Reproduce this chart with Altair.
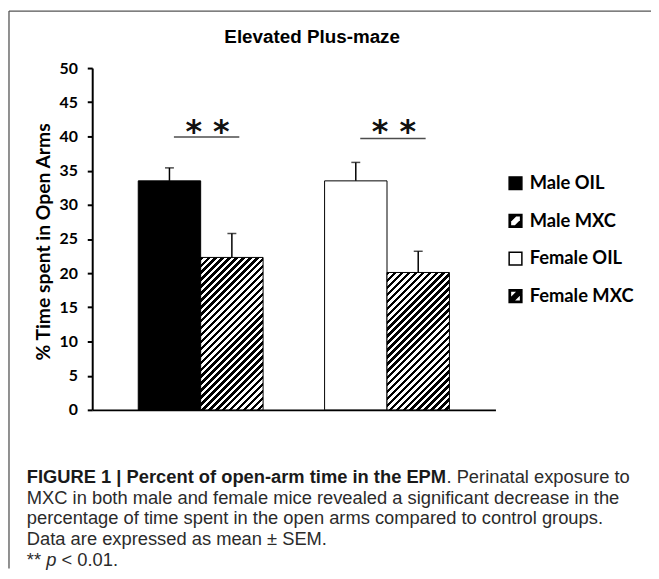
import altair as alt
import pandas as pd

# ---------------- data ----------------
groups = ["Male", "Male", "Female", "Female"]
treatments = ["OIL", "MXC", "OIL", "MXC"]
series = ["Male OIL", "Male MXC", "Female OIL", "Female MXC"]
means = [33.5, 22.3, 33.5, 20.1]
sems = [1.9, 3.5, 2.7, 3.1]

sig_groups = ["Male", "Female"]
sig_line_y = [39.9, 39.7]
sig_star_y = [41.9, 41.9]
sig_labels = ["* *", "* *"]

y_ticks = [0, 5, 10, 15, 20, 25, 30, 35, 40, 45, 50]

chart_title = "Elevated Plus-maze"
y_title = "% Time spent in Open Arms"

caption_bold = "FIGURE 1 | Percent of open-arm time in the EPM"
caption_first_rest = ". Perinatal exposure to"
caption_lines = [
    "MXC in both male and female mice revealed a significant decrease in the",
    "percentage of time spent in the open arms compared to control groups.",
    "Data are expressed as mean \u00b1 SEM.",
]
caption_note = ["**", "p", "< 0.01."]

# ---------------- layout ----------------
W, H = 407, 345
PAD_L, PAD_T, PAD_R, PAD_B = 85, 58, 157, 160
P_IN, P_OUT = 0.33, 0.247
Y_MAX = 50

df = pd.DataFrame({"group": groups, "treatment": treatments, "series": series,
                   "mean": means, "sem": sems})
df["top"] = df["mean"] + df["sem"]
sig_df = pd.DataFrame({"group": sig_groups, "line_y": sig_line_y,
                       "star_y": sig_star_y, "label": sig_labels})
one = pd.DataFrame({"k": [0]})

step = W / (2 - P_IN + 2 * P_OUT)
bar_w = step * (1 - P_IN) / 2
PERIOD = 7.0


def hatch(value):
    h = value / Y_MAX * H
    w = bar_w
    c = (w + h) / (w * w + h * h)
    d = PERIOD / (w + h)
    stops = []
    t = 0.0
    while t < 1:
        t1 = min(t + d * 0.5, 1.0)
        t2 = min(t + d, 1.0)
        stops += [alt.GradientStop(offset=t, color="black"),
                  alt.GradientStop(offset=t1, color="black"),
                  alt.GradientStop(offset=t1, color="white"),
                  alt.GradientStop(offset=t2, color="white")]
        t += d
    return alt.LinearGradient(gradient="linear", x1=0, y1=0, x2=w * c, y2=h * c, stops=stops)


y_axis = alt.Axis(values=y_ticks, grid=False, domainColor="black", domainWidth=2,
                  tickColor="black", tickWidth=2, tickSize=5,
                  labelFont="Lato", labelFontSize=16, labelFontWeight="bold",
                  labelColor="black", labelPadding=10,
                  title=y_title, titleFont="Lato", titleFontSize=19.5,
                  titleFontWeight="bold", titleColor="black",
                  titleX=-49, titleY=175, titleAngle=270,
                  titleAlign="center", titleBaseline="middle")


def Y(field):
    return alt.Y(f"{field}:Q", scale=alt.Scale(domain=[0, Y_MAX], nice=False), axis=y_axis)


x_enc = alt.X("group:N", sort=["Male", "Female"],
              scale=alt.Scale(paddingInner=P_IN, paddingOuter=P_OUT),
              axis=alt.Axis(labels=False, ticks=False, title=None,
                            domainColor="black", domainWidth=2))
xo_enc = alt.XOffset("treatment:N", sort=["OIL", "MXC"],
                     scale=alt.Scale(paddingInner=0, paddingOuter=0))

base = alt.Chart(df).encode(x=x_enc, xOffset=xo_enc)

oil_bars = base.transform_filter("datum.treatment == 'OIL'").mark_bar(
    stroke="black", strokeWidth=1).encode(
    y=Y("mean"),
    fill=alt.condition("datum.group == 'Male'", alt.value("black"), alt.value("white")))

hatched = []
for s, v, t in zip(series, means, treatments):
    if t == "MXC":
        hatched.append(base.transform_filter(f"datum.series == '{s}'").mark_bar(
            fill=hatch(v), stroke="black", strokeWidth=1).encode(y=Y("mean")))

err_rule = base.mark_rule(color="black", strokeWidth=1.5).encode(y=Y("mean"), y2="top:Q")
err_cap = base.mark_tick(color="black", thickness=1.5, size=9).encode(y=Y("top"))

sig_line = alt.Chart(sig_df).mark_tick(color="black", thickness=1.5, size=66, xOffset=6).encode(
    x=x_enc, y=Y("line_y"))
sig_star = alt.Chart(sig_df).mark_text(font="DejaVu Sans", fontSize=32, fontWeight="bold",
                                       color="#111111", baseline="middle", dx=7, dy=9).encode(
    x=x_enc, y=Y("star_y"), text="label:N")

MALE_MXC = ("M-1,-1 L0.25,-1 L-1,0.25 Z M1,-0.25 L1,1 L-0.25,1 Z "
            "M-1,-1 H1 V-0.8 H-1 Z M0.8,-1 H1 V1 H0.8 Z M-1,0.8 H1 V1 H-1 Z M-1,-1 H-0.8 V1 H-1 Z")
FEMALE_MXC = ("M-1,0.55 L0.55,-1 L1,-1 L1,-0.55 L-0.55,1 L-1,1 Z "
              "M-1,-1 H1 V-0.8 H-1 Z M0.8,-1 H1 V1 H0.8 Z M-1,0.8 H1 V1 H-1 Z M-1,-1 H-0.8 V1 H-1 Z")
leg = alt.Legend(title=None, orient="none", legendX=418, legendY=107, padding=0,
                 symbolSize=165, symbolOpacity=1, labelFont="Lato", labelFontSize=18.5,
                 labelFontWeight="bold", labelColor="black", labelOffset=5, rowPadding=18)
legend_pts = base.mark_point(filled=True, opacity=0, stroke="black", strokeWidth=1).encode(
    y=Y("mean"),
    fill=alt.Fill("series:N", scale=alt.Scale(domain=series, range=["black", "black", "white", "black"]), legend=leg),
    shape=alt.Shape("series:N", scale=alt.Scale(domain=series, range=["square", MALE_MXC, "square", FEMALE_MXC]), legend=leg),
)

title_txt = alt.Chart(one).mark_text(text=chart_title, font="Liberation Sans", fontSize=19,
                                     fontWeight="bold", color="black", baseline="middle").encode(
    x=alt.value(222), y=alt.value(-31))

CAP_X = 27 - 93
CAP_FS = 18.5
CAP_Y0 = 479 - 66
CAP_DY = 20.8
CAP_COLOR = "#2b2b2b"
cap_layers = []
cap_layers.append(alt.Chart(one).mark_text(text=caption_bold, font="Liberation Sans", fontSize=CAP_FS,
                                           fontWeight="bold", color="#1a1a1a", align="left",
                                           baseline="middle").encode(
    x=alt.value(CAP_X), y=alt.value(CAP_Y0)))
cap_layers.append(alt.Chart(one).mark_text(text=caption_first_rest, font="Liberation Sans", fontSize=CAP_FS,
                                           color=CAP_COLOR, align="left", baseline="middle").encode(
    x=alt.value(CAP_X + 22.896 * CAP_FS), y=alt.value(CAP_Y0)))
for i, line in enumerate(caption_lines):
    cap_layers.append(alt.Chart(one).mark_text(text=line, font="Liberation Sans", fontSize=CAP_FS,
                                               color=CAP_COLOR, align="left", baseline="middle").encode(
        x=alt.value(CAP_X), y=alt.value(CAP_Y0 + CAP_DY * (i + 1))))
y5 = CAP_Y0 + CAP_DY * 4
x_p = CAP_X + (2 * 0.389 + 0.278) * CAP_FS
x_lt = x_p + (0.556 + 0.278) * CAP_FS
for txt, xx, style in [(caption_note[0], CAP_X, "normal"), (caption_note[1], x_p, "italic"),
                       (caption_note[2], x_lt, "normal")]:
    cap_layers.append(alt.Chart(one).mark_text(text=txt, font="Liberation Sans", fontSize=CAP_FS,
                                               fontStyle=style, color=CAP_COLOR, align="left",
                                               baseline="middle").encode(
        x=alt.value(xx), y=alt.value(y5)))

border_left = alt.Chart(one).mark_rule(color="#555555", strokeWidth=1.3).encode(
    x=alt.value(-84), y=alt.value(-57.5), y2=alt.value(H + PAD_B))
border_top = alt.Chart(one).mark_rule(color="#555555", strokeWidth=1.3).encode(
    x=alt.value(-84), x2=alt.value(W + PAD_R), y=alt.value(-57.5))

chart = alt.layer(
    oil_bars, *hatched, err_rule, err_cap, sig_line, sig_star, legend_pts,
    title_txt, *cap_layers, border_left, border_top
).properties(
    width=W, height=H,
    padding={"left": PAD_L, "top": PAD_T, "right": PAD_R, "bottom": PAD_B},
    autosize=alt.AutoSizeParams(type="none"),
).configure_view(stroke=None)

chart.save("out.html", embed_options={"renderer": "svg", "actions": False})
